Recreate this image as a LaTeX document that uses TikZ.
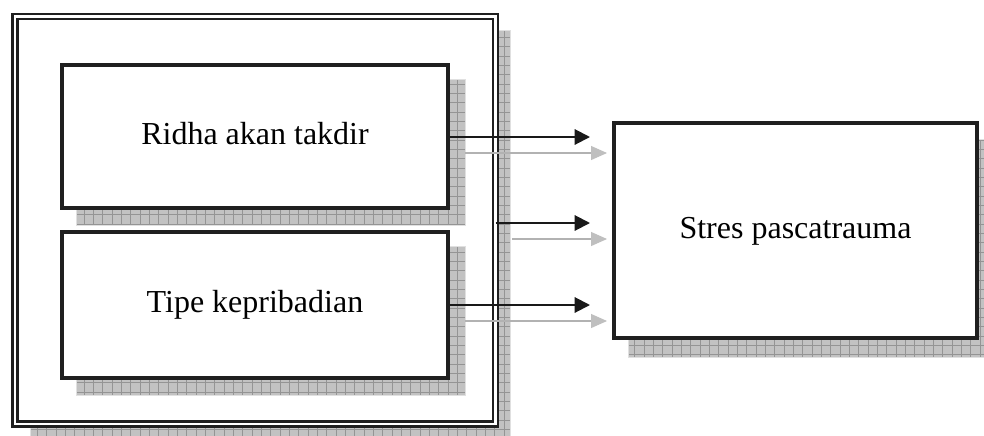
\documentclass[tikz,border=0pt]{standalone}
\usepackage{fontspec}
\setmainfont{Liberation Serif}
\usetikzlibrary{arrows.meta}
\pgfdeclarelayer{bgL}
\pgfdeclarelayer{shadowA}
\pgfdeclarelayer{frameL}
\pgfdeclarelayer{shadowB}
\pgfsetlayers{bgL,shadowA,frameL,shadowB,main}
\newcommand{\mkshadow}[3]{%
  \begin{scope}
    \clip ([shift={(#2,#3)}]#1.south west) rectangle ([shift={(#2,#3)}]#1.north east);
    \fill[shadowfill] ([shift={(#2,#3)}]#1.south west) rectangle ([shift={(#2,#3)}]#1.north east);
    \draw[shadowgrid] ([shift={(#2,#3)}]#1.south west) grid ([shift={(#2,#3)}]#1.north east);
  \end{scope}%
  \draw[shadowedge] ([shift={(#2,#3)}]#1.south west) rectangle ([shift={(#2,#3)}]#1.north east);}
\begin{document}
\begin{tikzpicture}[x=0.75pt,y=-0.75pt,
  box/.style={draw=black!88, line width=2.6pt, fill=white, inner sep=0pt,
    font=\fontsize{24}{28}\selectfont, text height=16.5pt, text depth=5.2pt},
  framebox/.style={draw=black!88, double=white, line width=1.9pt, double distance=2pt,
    fill=white, inner sep=0pt, outer sep=0pt},
  shadowfill/.style={fill=black!24},
  shadowgrid/.style={draw=black!42, line width=0.4pt, step=7pt},
  shadowedge/.style={draw=black!12, line width=0.5pt},
  mainarrow/.style={draw=black!90, line width=1.5pt, -{Triangle[length=11.5pt,width=11.5pt]}},
  shadowarrow/.style={draw=black!30, line width=0.8pt, -{Triangle[length=12pt,width=10.5pt,color=black!25,fill=black!25]}}]
\useasboundingbox (0,0) rectangle (984,435);
\begin{pgfonlayer}{bgL}
\fill[white] (0,0) rectangle (984,435);
\end{pgfonlayer}

% outer frame
\begin{pgfonlayer}{frameL}
\node[framebox, minimum width=360.4pt, minimum height=305.6pt] (frame) at (255.25,220.25) {};
\end{pgfonlayer}
\begin{pgfonlayer}{shadowA}
\mkshadow{frame}{15}{14}
\end{pgfonlayer}

% inner boxes
\node[box, minimum width=289.5pt, minimum height=107.25pt] (ridha) at (255,136.5) {Ridha akan takdir};
\node[box, minimum width=289.5pt, minimum height=109.5pt] (tipe) at (255,305) {Tipe kepribadian};
\node[box, line width=2.5pt, minimum width=272.25pt, minimum height=161.25pt] (stres) at (795.5,230.5) {Stres pascatrauma};
\begin{pgfonlayer}{shadowB}
\mkshadow{ridha}{16}{16}
\mkshadow{tipe}{16}{16}
\mkshadow{stres}{16}{18}
\end{pgfonlayer}

% arrow ends
\coordinate (t1) at (590,137);
\coordinate (t2) at (590,223);
\coordinate (t3) at (590,305);
\coordinate (g1) at (607,153);
\coordinate (g2) at (607,239);
\coordinate (g3) at (607,321);
\coordinate (s1) at (465,153);
\coordinate (s2) at (512,239);
\coordinate (s3) at (465,321);

\draw[shadowarrow] (s1) -- (g1);
\draw[shadowarrow] (s2) -- (g2);
\draw[shadowarrow] (s3) -- (g3);
\draw[mainarrow] (ridha.east |- t1) -- (t1);
\draw[mainarrow] (frame.east |- t2) -- (t2);
\draw[mainarrow] (tipe.east |- t3) -- (t3);
\end{tikzpicture}
\end{document}
